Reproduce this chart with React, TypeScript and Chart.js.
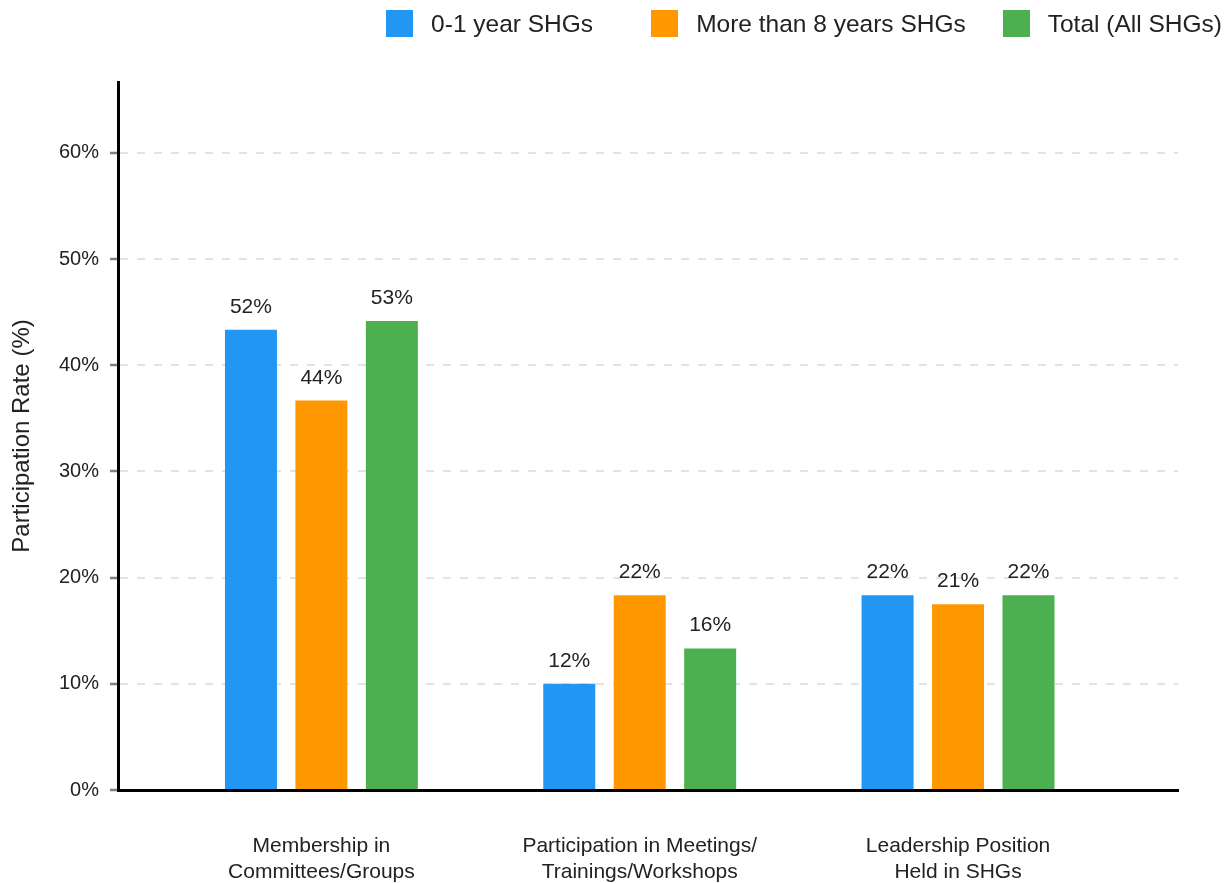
import React, { useEffect, useRef } from "react";
import { Chart, registerables } from "chart.js";

Chart.register(...registerables);

const FONT = "'Liberation Sans', Arial, Helvetica, sans-serif";

const CATEGORIES: string[][] = [
  ["Membership in", "Committees/Groups"],
  ["Participation in Meetings/", "Trainings/Workshops"],
  ["Leadership Position", "Held in SHGs"],
];
const SERIES_LABELS = ["0-1 year SHGs", "More than 8 years SHGs", "Total (All SHGs)"];
const YOUNG_SHGS = [52, 12, 22];
const OLD_SHGS = [44, 22, 21];
const TOTAL_SHGS = [53, 16, 22];
const SERIES_COLORS = ["#2196F3", "#FF9800", "#4CAF50"];
const Y_TICK_VALUES = [0, 12, 24, 36, 48, 60, 72];
const Y_TICK_LABELS = ["0%", "10%", "20%", "30%", "40%", "50%", "60%"];
const Y_TITLE = "Participation Rate (%)";
const LEGEND_GAPS = [58, 37, 0];

const TEXT_COLOR = "#222";

const valueLabels = {
  id: "valueLabels",
  afterDatasetsDraw(chart: any) {
    const ctx = chart.ctx;
    ctx.save();
    ctx.font = `21px ${FONT}`;
    ctx.fillStyle = TEXT_COLOR;
    ctx.textAlign = "center";
    ctx.textBaseline = "alphabetic";
    chart.data.datasets.forEach((ds: any, di: number) => {
      const meta = chart.getDatasetMeta(di);
      meta.data.forEach((bar: any, i: number) => {
        const v = ds.data[i].y;
        ctx.fillText(`${v}%`, bar.x, bar.y - 17);
      });
    });
    ctx.restore();
  },
};

export default function App() {
  const ref = useRef<HTMLCanvasElement | null>(null);

  useEffect(() => {
    if (!ref.current) return;
    Chart.defaults.font.family = FONT;
    const seriesData = [YOUNG_SHGS, OLD_SHGS, TOTAL_SHGS];
    const chart = new Chart(ref.current, {
      type: "bar",
      data: {
        datasets: seriesData.map((vals, si) => ({
          label: SERIES_LABELS[si],
          data: vals.map((v, i) => ({ x: i, y: v })),
          backgroundColor: SERIES_COLORS[si],
          borderWidth: 0,
          categoryPercentage: 0.664,
          barPercentage: 0.738,
        })),
      },
      options: {
        responsive: false,
        animation: false,
        layout: { padding: { top: 82, right: 50, left: 0, bottom: 0 } },
        plugins: {
          legend: { display: false },
          tooltip: { enabled: false },
        },
        scales: {
          x: {
            type: "linear",
            min: -0.639,
            max: 2.691,
            offset: false,
            z: 1,
            afterBuildTicks: (s: any) => {
              s.ticks = CATEGORIES.map((_, i) => ({ value: i }));
            },
            afterFit: (s: any) => {
              s.height = 93;
            },
            ticks: {
              callback: (_v: any, i: number) => CATEGORIES[i],
              font: { size: 21, lineHeight: 1.2 },
              color: TEXT_COLOR,
              padding: 44,
              maxRotation: 0,
              autoSkip: false,
            },
            grid: { display: false, drawTicks: false, offset: false },
            border: { display: true, color: "#000", width: 3 },
          },
          y: {
            min: 0,
            max: 80,
            afterBuildTicks: (s: any) => {
              s.ticks = Y_TICK_VALUES.map((v) => ({ value: v }));
            },
            afterFit: (s: any) => {
              s.width = 118;
            },
            ticks: {
              callback: (_v: any, i: number) => Y_TICK_LABELS[i],
              font: { size: 20 },
              color: TEXT_COLOR,
              padding: 11,
            },
            grid: {
              color: "#e3e3e3",
              lineWidth: 2,
              tickLength: 8,
              tickColor: "#808080",
              tickWidth: 2.5,
            },
            border: { display: true, color: "#000", width: 3, dash: [8, 9] },
            title: {
              display: true,
              text: Y_TITLE,
              font: { size: 24 },
              color: TEXT_COLOR,
              padding: { top: 8, bottom: 0 },
            },
          },
        },
      },
      plugins: [valueLabels],
    } as any);
    return () => chart.destroy();
  }, []);

  return (
    <div style={{ position: "absolute", left: 0, top: 0, width: 1228, height: 883, background: "#fff" }}>
      <canvas ref={ref} width={1228} height={883} style={{ display: "block" }} />
      <div
        style={{
          position: "absolute",
          top: 10,
          right: 6,
          display: "flex",
          alignItems: "center",
          fontFamily: FONT,
          fontSize: 24.5,
          color: TEXT_COLOR,
        }}
      >
        {SERIES_LABELS.map((l, i) => (
          <div key={l} style={{ display: "flex", alignItems: "center", marginRight: LEGEND_GAPS[i] }}>
            <span style={{ width: 27, height: 27, background: SERIES_COLORS[i], marginRight: 18, display: "inline-block" }} />
            <span style={{ lineHeight: "27px", whiteSpace: "nowrap" }}>{l}</span>
          </div>
        ))}
      </div>
    </div>
  );
}
